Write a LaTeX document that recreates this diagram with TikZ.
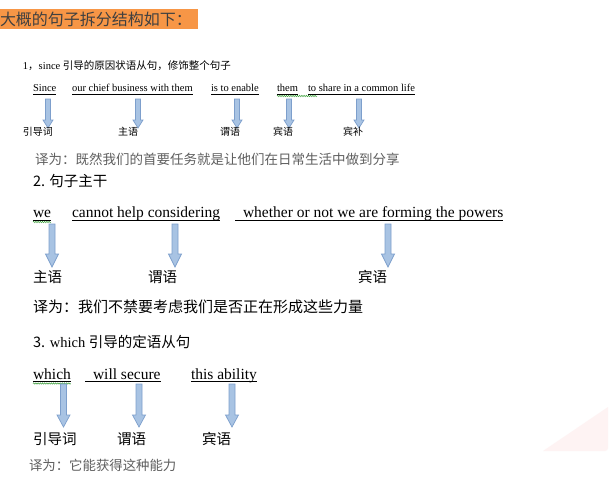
\documentclass[tikz,border=0pt]{standalone}
\usepackage{fontspec}
\setmainfont{Liberation Serif}
\newfontfamily\cjk{Noto Sans CJK SC}
\usetikzlibrary{decorations.pathmorphing}
\definecolor{orangebox}{RGB}{247,150,70}
\definecolor{titletext}{RGB}{64,64,64}
\definecolor{transgray}{RGB}{95,95,95}
\definecolor{arrowfill}{RGB}{168,195,227}
\definecolor{arrowdraw}{RGB}{125,159,204}
\definecolor{wavygreen}{RGB}{60,160,60}
\definecolor{pinkish}{RGB}{254,243,243}
\newcommand\myarrow[6]{%
  \draw[blockarrow] (#1-#4,#2) -- (#1+#4,#2) -- (#1+#4,#3-#6) -- (#1+#5,#3-#6)
    -- (#1,#3) -- (#1-#5,#3-#6) -- (#1-#4,#3-#6) -- cycle;}
\begin{document}
\begin{tikzpicture}[x=1pt,y=-1pt,
  every node/.style={inner sep=0pt,outer sep=0pt},
  blockarrow/.style={fill=arrowfill,draw=arrowdraw,line width=0.7pt,line join=miter},
  uline/.style={line width=0.6pt,black},
  wavy/.style={wavygreen,line width=0.5pt,decorate,decoration={snake,amplitude=0.7pt,segment length=2.2pt}},
  wordA/.style={anchor=base west,font=\fontsize{10.5}{12}\selectfont},
  wordB/.style={anchor=base west,font=\fontsize{15.5}{17}\selectfont},
  labA/.style={anchor=west,font=\cjk\fontsize{10}{12}\selectfont},
  labB/.style={anchor=west,font=\cjk\fontsize{14.5}{16}\selectfont},
]
\useasboundingbox (0,0) rectangle (613,485);
\fill[white] (0,0) rectangle (613,485);
% faint pink corner
\fill[pinkish] (543,451) -- (608,407) -- (608,448) to[out=-90,in=0] (605,451) -- cycle;
% title
\fill[orangebox] (0,9) rectangle (198,29);
\node[anchor=west,font=\cjk\fontsize{16}{18}\selectfont,text=titletext] (title) at (0,19.5) {大概的句子拆分结构如下：};

% ---------- section 1 ----------
\node[anchor=west,font=\fontsize{10.5}{12}\selectfont] (h1) at (23,66) {1{\cjk ，}since {\cjk 引导的原因状语从句，修饰整个句子}};
\node[wordA] (a1) at (33,91.5) {Since};
\node[wordA] (a2) at (72,91.5) {our chief business with them};
\node[wordA] (a3) at (211,91.5) {is to enable};
\node[wordA] (a4) at (277,91.5) {them};
\node[wordA] (a5) at (308,91.5) {to share in a common life};
\foreach \w in {a1,a2,a3,a4,a5}
  \draw[uline] ([yshift=-2.5pt]\w.base west) -- ([yshift=-2.5pt]\w.base east);
\draw[wavy] ([yshift=-4.5pt]a4.base west) -- ([xshift=40pt,yshift=-4.5pt]a4.base west);
\myarrow{48}{99}{128}{2.5}{5}{8}
\myarrow{138}{99}{128}{2.5}{5}{8}
\myarrow{237}{99}{128}{2.5}{5}{8}
\myarrow{289}{99}{128}{2.5}{5}{8}
\myarrow{359}{99}{128}{2.5}{5}{8}
\node[labA] (l1) at (23,132) {引导词};
\node[labA] (l2) at (118,132) {主语};
\node[labA] (l3) at (220,132) {谓语};
\node[labA] (l4) at (273,132) {宾语};
\node[labA] (l5) at (343,132) {宾补};
\node[anchor=west,font=\cjk\fontsize{13.5}{16}\selectfont,text=transgray] (t1) at (35,159) {译为：既然我们的首要任务就是让他们在日常生活中做到分享};

% ---------- section 2 ----------
\node[anchor=west,font=\cjk\fontsize{14.5}{16}\selectfont] (h2) at (33,181) {2. 句子主干};
\node[wordB] (b1) at (33,217.5) {we};
\node[wordB] (b2) at (72,217.5) {cannot help considering};
\node[wordB] (b3) at (243,217.5) {whether or not we are forming the powers};
\draw[uline] ([yshift=-2.5pt]b1.base west) -- ([yshift=-2.5pt]b1.base east);
\draw[uline] ([yshift=-2.5pt]b2.base west) -- ([yshift=-2.5pt]b2.base east);
\draw[uline] ([xshift=-8pt,yshift=-2.5pt]b3.base west) -- ([yshift=-2.5pt]b3.base east);
\draw[wavy] ([yshift=-4.5pt]b1.base west) -- ([yshift=-4.5pt]b1.base east);
\myarrow{52}{224}{267}{3}{6.5}{13}
\myarrow{175}{224}{267}{3}{6.5}{13}
\myarrow{388}{224}{267}{3}{6.5}{13}
\node[labB] (m1) at (33,277) {主语};
\node[labB] (m2) at (148,277) {谓语};
\node[labB] (m3) at (358,277) {宾语};
\node[anchor=west,font=\cjk\fontsize{15}{17}\selectfont] (t2) at (33,307) {译为：我们不禁要考虑我们是否正在形成这些力量};

% ---------- section 3 ----------
\node[anchor=west,font=\fontsize{14.5}{16}\selectfont] (h3) at (33,342) {{\cjk 3.} which {\cjk 引导的定语从句}};
\node[wordB] (c1) at (33,379) {which};
\node[wordB] (c2) at (93,379) {will secure};
\node[wordB] (c3) at (191,379) {this ability};
\draw[uline] ([yshift=-2.5pt]c1.base west) -- ([yshift=-2.5pt]c1.base east);
\draw[uline] ([xshift=-8pt,yshift=-2.5pt]c2.base west) -- ([yshift=-2.5pt]c2.base east);
\draw[uline] ([yshift=-2.5pt]c3.base west) -- ([yshift=-2.5pt]c3.base east);
\draw[wavy] ([yshift=-4.5pt]c1.base west) -- ([yshift=-4.5pt]c1.base east);
\myarrow{63.5}{384}{427}{3}{6.5}{12}
\myarrow{139}{384}{427}{3}{6.5}{12}
\myarrow{232}{384}{427}{3}{6.5}{12}
\node[labB] (n1) at (33,439) {引导词};
\node[labB] (n2) at (117,439) {谓语};
\node[labB] (n3) at (202,439) {宾语};
\node[anchor=west,font=\cjk\fontsize{13.4}{15}\selectfont,text=transgray] (t3) at (29,465) {译为：它能获得这种能力};
\end{tikzpicture}
\end{document}
